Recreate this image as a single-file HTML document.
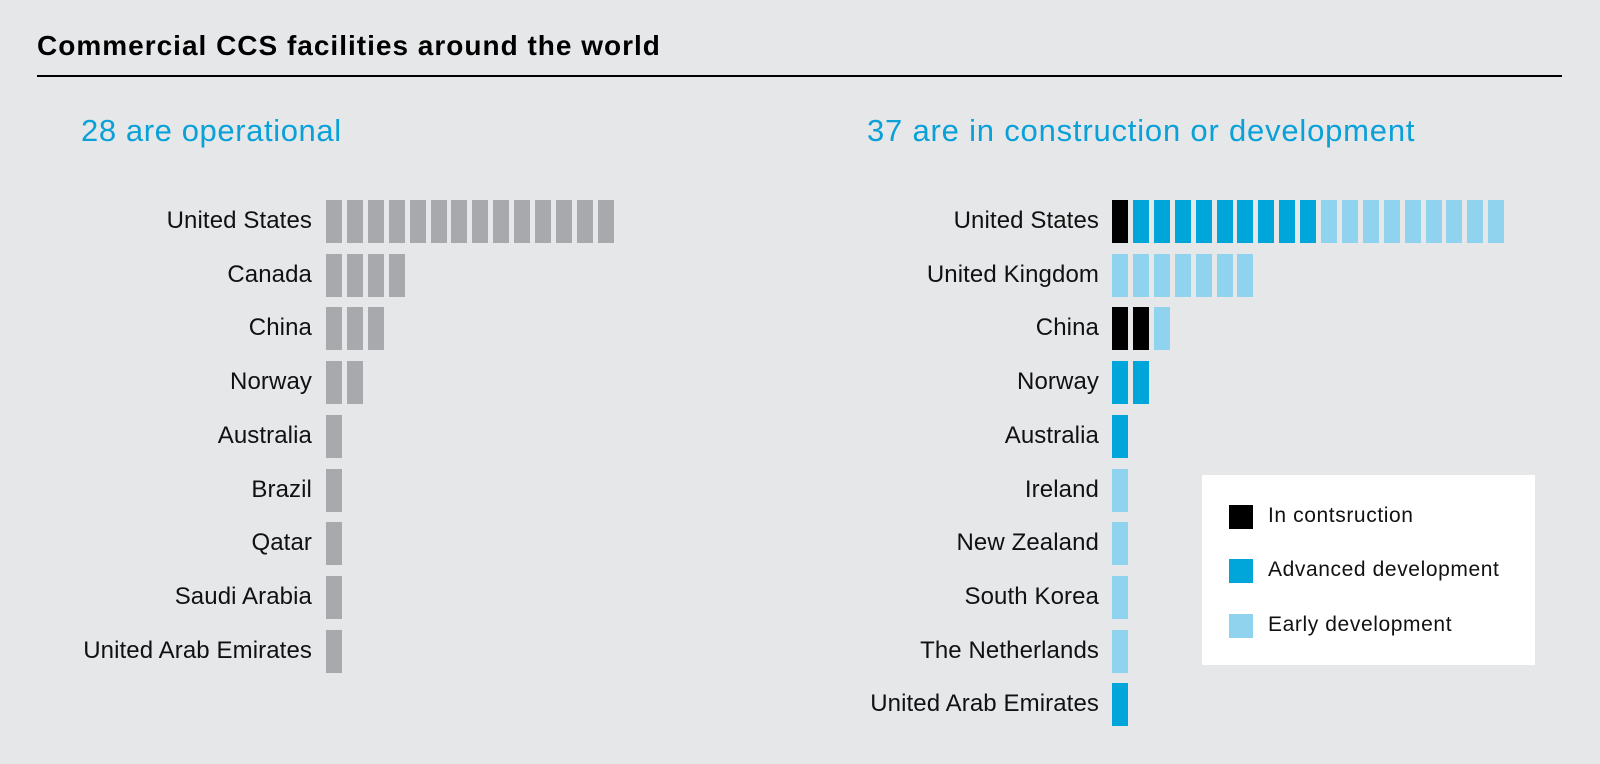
<!DOCTYPE html>
<html><head><style>
body{margin:0;width:1600px;height:764px;background:#e6e7e9;font-family:"Liberation Sans",sans-serif;position:relative;overflow:hidden}
.t{position:absolute;white-space:nowrap}
.b{position:absolute;width:16px;height:43px}
.g{background:#a7a9ac}.k{background:#000}.d{background:#00a6d9}.l{background:#8fd3ee}
.lab{position:absolute;font-size:24px;color:#111;text-align:right;width:400px;line-height:42px;letter-spacing:0.1px}
.lg{font-size:21px;color:#111;letter-spacing:0.6px}
</style></head><body>
<div class="t" style="left:37px;top:30px;font-size:28px;font-weight:bold;color:#000;letter-spacing:1px">Commercial CCS facilities around the world</div>
<div style="position:absolute;left:37px;top:75px;width:1525px;height:1.5px;background:#000"></div>
<div class="t" style="left:81px;top:113px;font-size:31px;color:#0aa0d8;letter-spacing:0.6px">28 are operational</div>
<div class="t" style="left:867px;top:113px;font-size:31px;color:#0aa0d8;letter-spacing:0.8px">37 are in construction or development</div>
<div style="position:absolute;left:1202px;top:475px;width:333px;height:190px;background:#fff"></div>
<div class="b k" style="left:1229px;top:505px;width:24px;height:24px"></div>
<div class="b d" style="left:1229px;top:559px;width:24px;height:24px"></div>
<div class="b l" style="left:1229px;top:614px;width:24px;height:24px"></div>
<div class="t lg" style="left:1268px;top:504px">In contsruction</div>
<div class="t lg" style="left:1268px;top:558px">Advanced development</div>
<div class="t lg" style="left:1268px;top:613px">Early development</div>
<div id="c"></div>
<script>
var c=document.getElementById('c'),h='';
var L=[["United States","g".repeat(14)],["Canada","gggg"],["China","ggg"],["Norway","gg"],["Australia","g"],["Brazil","g"],["Qatar","g"],["Saudi Arabia","g"],["United Arab Emirates","g"]];
var R=[["United States","k"+"d".repeat(9)+"l".repeat(9)],["United Kingdom","lllllll"],["China","kkl"],["Norway","dd"],["Australia","d"],["Ireland","l"],["New Zealand","l"],["South Korea","l"],["The Netherlands","l"],["United Arab Emirates","d"]];
function draw(arr,lx,bx){arr.forEach(function(r,i){var y=200+i*53.7;
h+='<div class="lab" style="left:'+(lx-400)+'px;top:'+y+'px">'+r[0]+'</div>';
for(var j=0;j<r[1].length;j++)h+='<div class="b '+r[1][j]+'" style="left:'+(bx+j*20.9)+'px;top:'+y+'px"></div>';});}
draw(L,312,326);draw(R,1099,1112);
c.innerHTML=h;
</script>
</body></html>
